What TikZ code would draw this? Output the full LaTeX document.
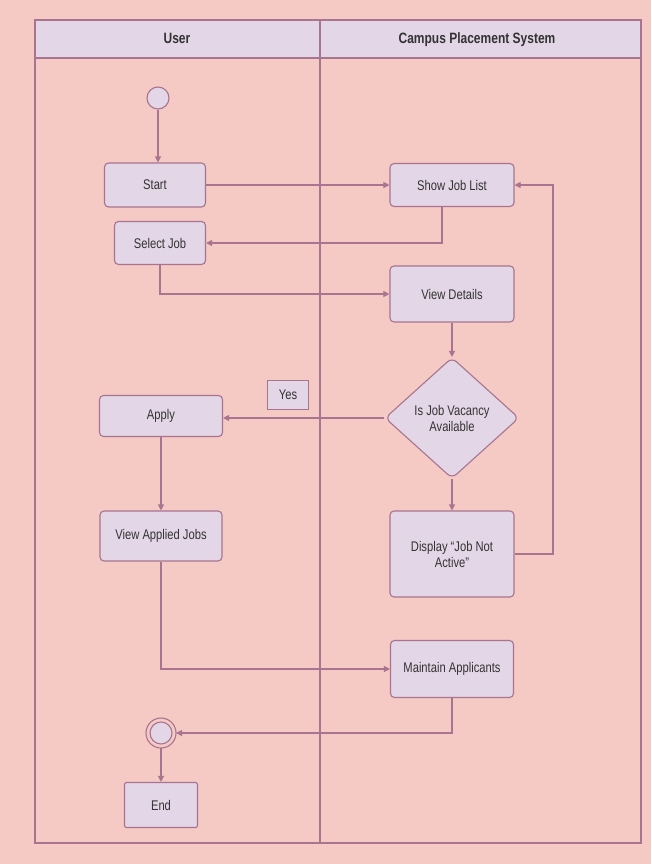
\documentclass[tikz,border=0pt]{standalone}
\usepackage{fontspec}
\setmainfont{Liberation Sans}[FakeStretch=0.8]
\usetikzlibrary{shapes.geometric,arrows.meta}

\definecolor{bgpink}{HTML}{F5C9C4}
\definecolor{boxfill}{HTML}{E3D6E6}
\definecolor{edgemauve}{HTML}{A8748F}
\definecolor{textgrey}{HTML}{333333}

\begin{document}
\begin{tikzpicture}[x=1pt, y=-1pt,
  act/.style = {draw = edgemauve, fill = boxfill, rounded corners = 4pt, line width = 1.1pt,
                align = center, text = textgrey, font = \fontsize{14}{16}\selectfont, inner sep = 0pt},
  lane/.style = {text = textgrey, anchor = base, font = \bfseries\fontsize{15}{17}\selectfont},
  flow/.style = {draw = edgemauve, line width = 1.1pt, -{Triangle[length=6pt,width=6pt]}}]

\fill [bgpink] (0,0) rectangle (651,864);
\useasboundingbox (0,0) rectangle (651,864);

% swimlanes
\fill [boxfill] (35,20) rectangle (641,58);
\draw [edgemauve, line width = 1.1pt] (35,20) rectangle (641,843);
\draw [edgemauve, line width = 1.1pt] (35,58) -- (641,58);
\draw [edgemauve, line width = 1.1pt] (320,20) -- (320,843);
\node (l1) at (177,44) [lane] {User};
\node (l2) at (477,44) [lane] {Campus Placement System};

% user lane
\node (v0) at (158,98) [circle, draw = edgemauve, fill = boxfill, line width = 1.1pt, minimum size = 22pt, inner sep = 0pt] {};
\node (v1) at (155,185) [act, minimum width = 101pt, minimum height = 44pt] {Start};
\node (v2) at (160,243) [act, minimum width = 91pt, minimum height = 43pt] {Select Job};
\node (v5) at (161,416) [act, minimum width = 123pt, minimum height = 41pt] {Apply};
\node (v6) at (161,536) [act, minimum width = 122pt, minimum height = 50pt] {View Applied Jobs};
\node (v9) at (161,733) [circle, draw = edgemauve, fill = boxfill, line width = 1.1pt, minimum size = 22pt, inner sep = 0pt] {};
\node (v10) at (161,805) [act, rounded corners = 2pt, minimum width = 73pt, minimum height = 45pt] {End};

% system lane
\node (v3) at (452,185) [act, minimum width = 124pt, minimum height = 43pt] {Show Job List};
\node (v4) at (452,294) [act, minimum width = 124pt, minimum height = 56pt] {View Details};
\node (v7) at (452,418) [act, diamond, rounded corners = 6pt, minimum width = 134pt, minimum height = 121pt] {Is Job Vacancy\\Available};
\node (v8) at (452,554) [act, minimum width = 124pt, minimum height = 86pt] {Display ``Job Not\\Active''};
\node (v11) at (452,669) [act, minimum width = 123pt, minimum height = 57pt] {Maintain Applicants};
\node (y1) at (288,395) [draw = edgemauve, fill = boxfill, line width = 1.1pt, text = textgrey,
  font = \fontsize{14}{16}\selectfont, minimum width = 41pt, minimum height = 29pt, inner sep = 0pt] {Yes};

% final state ring
\draw [edgemauve, line width = 1.1pt] (v9) circle (15pt);

\draw [flow] (v0) -- (v0 |- v1.north);
\draw [flow] (v1) -- (v3);
\draw [flow] (442,207) |- (v2);
\draw [flow] (v2) |- (v4);
\draw [flow] (v4) -- (v7);
\draw [flow] (v7) -- (v7 -| v5.east);
\draw [flow] (v7) -- (v8);
\draw [flow] (v8.east) -- (553,554) |- (v3.east);
\draw [flow] (v5) -- (v6);
\draw [flow] (v6) |- (v11);
\draw [flow] (v11) |- (176,733);
\draw [flow] (161,748) -- (v10);
\end{tikzpicture}
\end{document}
